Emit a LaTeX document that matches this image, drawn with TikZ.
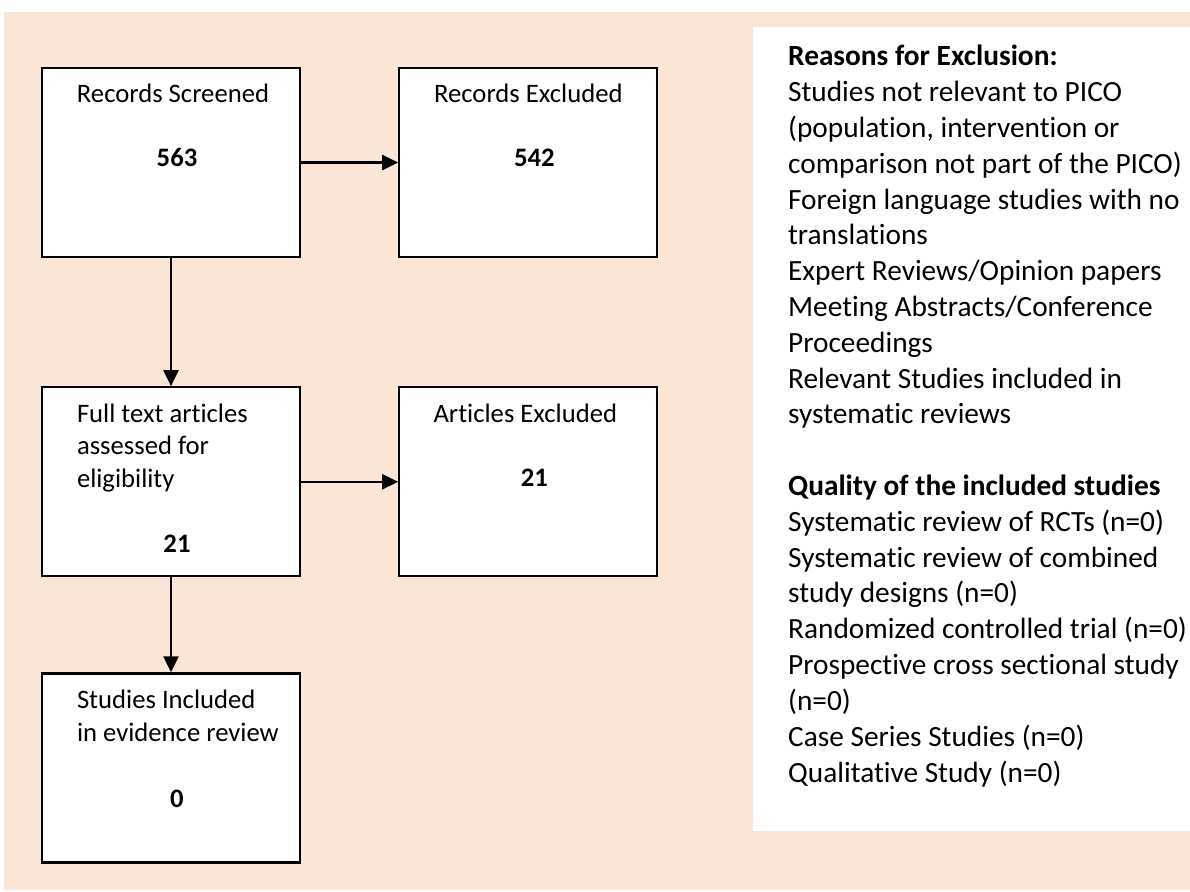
\documentclass[tikz,border=0pt]{standalone}
\usepackage{fontspec}
\setmainfont{Carlito}[Ligatures={CommonOff,ContextualOff}, Contextuals=AlternateOff]
\usepackage{tikz}
\usepackage{xcolor}
\usetikzlibrary{positioning, arrows.meta}
\definecolor{peach}{HTML}{FBE5D6}

\begin{document}
\begin{tikzpicture}[x=0.375pt, y=-0.375pt, line width=0.85pt,
  box/.style={draw, fill=white, minimum width=96.75pt, minimum height=70.875pt, inner sep=0pt},
  head/.style={font=\fontsize{10}{12.2}\selectfont, inner sep=0pt, align=left},
  num/.style={font=\fontsize{10}{12.2}\selectfont\bfseries, inner sep=0pt},
  flow/.style={-{Triangle[length=6pt, width=5.6pt]}}]
  \useasboundingbox (0,0) rectangle (1190,891);
  \fill[peach] (4,12) rectangle (1190,890);
  \fill[white] (753,27) rectangle (1190,831);

  % flow boxes
  \node (scr) [box] at (171,162.5) {};
  \node (exc) [box, right=36.4pt of scr] {};
  \node (full) [box, below=48pt of scr] {};
  \node (artex) [box, right=36.4pt of full] {};
  \node (incl) [box, below=35.6pt of full] {};

  % multi-line texts sit on their last baseline
  \node (scrhead) [head, anchor=base] at ([shift={(2,36)}]scr.north) {Records Screened};
  \node (scrnum) [num, anchor=base] at ([shift={(6,100)}]scr.north) {563};
  \node (exchead) [head, anchor=base] at ([shift={(0,36)}]exc.north) {Records Excluded};
  \node (excnum) [num, anchor=base] at ([shift={(6,100)}]exc.north) {542};
  \node (fullhead) [head, anchor=base west] at ([shift={(35,101)}]full.north west) {Full text articles\\assessed for\\eligibility};
  \node (fullnum) [num, anchor=base] at ([shift={(6,166)}]full.north) {21};
  \node (artexhead) [head, anchor=base] at ([shift={(-3,36)}]artex.north) {Articles Excluded};
  \node (artexnum) [num, anchor=base] at ([shift={(6,100)}]artex.north) {21};
  \node (inclhead) [head, anchor=base west] at ([shift={(35,69)}]incl.north west) {Studies Included\\in evidence review};
  \node (inclnum) [num, anchor=base] at ([shift={(6,135)}]incl.north) {0};

  \draw[flow] (scr) -- (exc);
  \draw[flow] (scr) -- (full);
  \draw[flow] (full) -- (artex);
  \draw[flow] (full) -- (incl);

  % notes panel
  \node (notes) [anchor=base west, inner sep=0pt, align=left, font=\fontsize{11}{13.43}\selectfont] at (787,782)
    {\textbf{Reasons for Exclusion:}\\
     Studies not relevant to PICO\\
     (population, intervention or\\
     comparison not part of the PICO)\\
     Foreign language studies with no\\
     translations\\
     Expert Reviews/Opinion papers\\
     Meeting Abstracts/Conference\\
     Proceedings\\
     Relevant Studies included in\\
     systematic reviews\\[13.43pt]
     \textbf{Quality of the included studies}\\
     Systematic review of RCTs (n=0)\\
     Systematic review of combined\\
     study designs (n=0)\\
     Randomized controlled trial (n=0)\\
     Prospective cross sectional study\\
     (n=0)\\
     Case Series Studies (n=0)\\
     Qualitative Study (n=0)};
\end{tikzpicture}
\end{document}
